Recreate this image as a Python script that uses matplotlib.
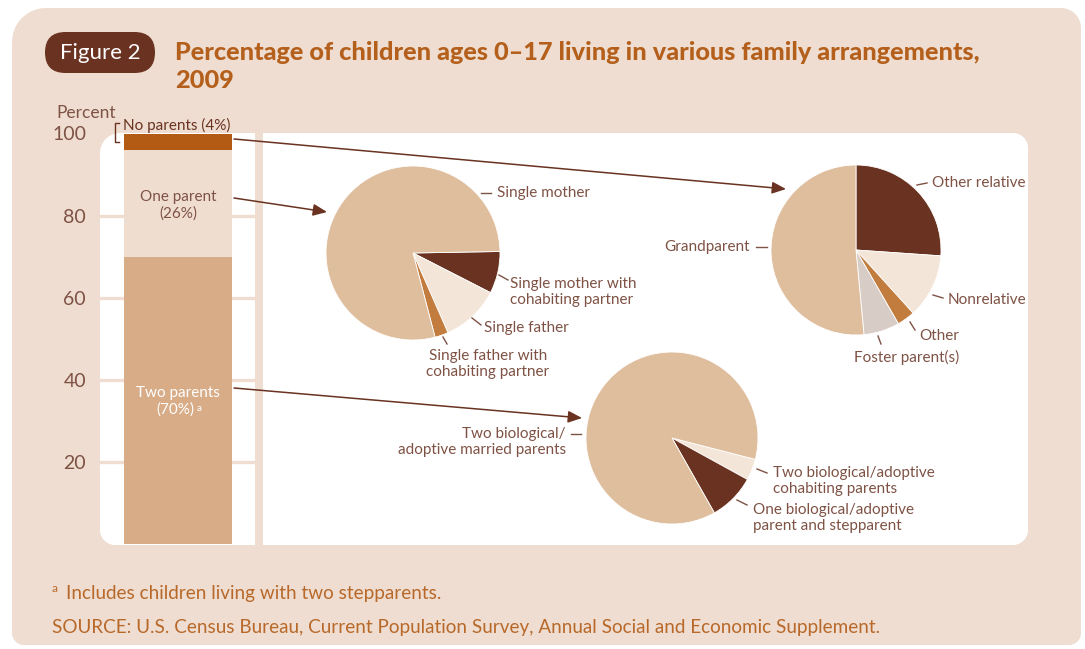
import numpy as np
import matplotlib
matplotlib.use("Agg")
import matplotlib.pyplot as plt
from matplotlib.patches import Polygon, FancyBboxPatch, FancyArrowPatch

plt.rcParams['font.family'] = ['Lato', 'DejaVu Sans']

# ---- data -------------------------------------------------------------
bar_groups = ["Two parents", "One parent", "No parents"]
bar_values = [70, 26, 4]

one_parent_labels = ["Single mother with cohabiting partner", "Single father",
                     "Single father with cohabiting partner", "Single mother"]
one_parent_values = [7.8, 10.9, 2.5, 78.8]

no_parent_labels = ["Other relative", "Nonrelative", "Other", "Foster parent(s)", "Grandparent"]
no_parent_values = [26.1, 12.2, 3.4, 6.8, 51.5]

two_parent_labels = ["Two biological/adoptive cohabiting parents",
                     "One biological/adoptive parent and stepparent",
                     "Two biological/adoptive married parents"]
two_parent_values = [4.0, 8.8, 87.2]

y_ticks = [20, 40, 60, 80, 100]

# ---- colours -----------------------------------------------------------
PANEL = '#EEDDD0'
TAN = '#DFBE9E'
DARK = '#6A3220'
CREAM = '#F3E5D8'
ORANGE = '#C27C3E'
FOSTER = '#D8CCC6'
BAR_TWO = '#D8AC87'
BAR_ONE = '#EFDDD0'
BAR_NONE = '#B35A15'
LABEL = '#7E5244'
TITLE = '#B4601C'
NOTE = '#B8692A'

W, H = 1085, 649
fig = plt.figure(figsize=(W / 100, H / 100), dpi=100)


def frac(x0, y0, x1, y1):
    """Pixel box (y downward) -> figure fraction rect."""
    return [x0 / W, 1 - y1 / H, (x1 - x0) / W, (y1 - y0) / H]


def rounded_poly(x0, y0, x1, y1, radii, n=16):
    """Rectangle with individual corner radii (tl, tr, br, bl), y downward."""
    tl, tr, br, bl = radii
    pts = []

    def arc(cx, cy, r, a0, a1):
        t = np.linspace(np.radians(a0), np.radians(a1), n)
        return list(zip(cx + r * np.cos(t), cy + r * np.sin(t)))

    pts += arc(x0 + tl, y0 + tl, tl, 180, 270) if tl else [(x0, y0)]
    pts += arc(x1 - tr, y0 + tr, tr, 270, 360) if tr else [(x1, y0)]
    pts += arc(x1 - br, y1 - br, br, 0, 90) if br else [(x1, y1)]
    pts += arc(x0 + bl, y1 - bl, bl, 90, 180) if bl else [(x0, y1)]
    return np.array(pts)


# ---- background layer ------------------------------------------------------
bg = fig.add_axes([0, 0, 1, 1], zorder=0)
bg.set_xlim(0, W)
bg.set_ylim(H, 0)
bg.axis('off')

bg.add_patch(Polygon(rounded_poly(12, 8, 1081, 645, (34, 20, 12, 12)),
                     closed=True, fc=PANEL, ec='none'))
bg.add_patch(Polygon(rounded_poly(100, 133, 255, 545, (20, 0, 0, 15)),
                     closed=True, fc='white', ec='none'))
bg.add_patch(Polygon(rounded_poly(263, 133, 1028, 545, (0, 15, 15, 0)),
                     closed=True, fc='white', ec='none'))

# Figure badge and title
bg.add_patch(FancyBboxPatch((45, 32), 110, 41,
                            boxstyle="round,pad=0,rounding_size=20.5",
                            fc=DARK, ec='none'))
bg.text(100, 53, "Figure 2", color='white', fontsize=16, ha='center',
        va='center')
bg.text(175, 52, "Percentage of children ages 0\u201317 living in various family arrangements,",
        color=TITLE, fontsize=18.2, fontweight='black', ha='left', va='center')
bg.text(175, 81, "2009", color=TITLE, fontsize=18.2, fontweight='black',
        ha='left', va='center')

# Notes
bg.text(52, 588, "a", color=NOTE, fontsize=8.5, ha='left', va='center')
bg.text(66, 593, "Includes children living with two stepparents.", color=NOTE,
        fontsize=13.6, ha='left', va='center')
bg.text(52, 628, "SOURCE: U.S. Census Bureau, Current Population Survey, "
        "Annual Social and Economic Supplement.", color=NOTE, fontsize=13.6,
        ha='left', va='center')

# ---- stacked bar ------------------------------------------------------------
axb = fig.add_axes(frac(100, 133.5, 255, 544), zorder=1)
axb.patch.set_alpha(0)
axb.set_xlim(0, 1)
axb.set_ylim(0, 100)
for s in axb.spines.values():
    s.set_visible(False)
axb.set_xticks([])
axb.set_yticks(y_ticks)
axb.set_yticklabels([str(t) for t in y_ticks])
axb.tick_params(axis='y', length=0, pad=10, labelsize=14, labelcolor=LABEL)
axb.set_axisbelow(True)
for t in y_ticks[:-1]:
    axb.axhline(t, color=PANEL, lw=2.4, zorder=0)

bar_colors = [BAR_TWO, BAR_ONE, BAR_NONE]
bottoms = np.concatenate([[0], np.cumsum(bar_values)[:-1]])
axb.bar([0.503] * 3, bar_values, bottom=bottoms, width=0.697,
        color=bar_colors, zorder=2)

mid_two = bottoms[0] + bar_values[0] / 2
mid_one = bottoms[1] + bar_values[1] / 2
axb.text(0.503, mid_two + 1.9, bar_groups[0], color='white', fontsize=11,
         ha='center', va='center', zorder=3)
axb.text(0.485, mid_two - 2.3, f"({bar_values[0]}%)", color='white', fontsize=11,
         ha='center', va='center', zorder=3)
axb.text(0.625, mid_two - 1.9, "a", color='white', fontsize=7,
         ha='left', va='center', zorder=3)
axb.text(0.503, mid_one - 0.4, f"{bar_groups[1]}\n({bar_values[1]}%)", color=LABEL,
         fontsize=11, ha='center', va='center', linespacing=1.2, zorder=3)

# ---- pies ----------------------------------------------------------------
def pie_axes(cx, cy, r):
    ax = fig.add_axes(frac(cx - r, cy - r, cx + r, cy + r), zorder=2)
    ax.patch.set_alpha(0)
    return ax


wp = dict(linewidth=0.6, edgecolor='white')

ax1 = pie_axes(413, 253, 87)
ax1.pie(one_parent_values, colors=[DARK, CREAM, ORANGE, TAN],
        startangle=1, counterclock=False, radius=1, wedgeprops=wp)
ax1.set_xlim(-1, 1)
ax1.set_ylim(-1, 1)

ax2 = pie_axes(856, 250, 85)
ax2.pie(no_parent_values, colors=[DARK, CREAM, ORANGE, FOSTER, TAN],
        startangle=90, counterclock=False, radius=1, wedgeprops=wp)
ax2.set_xlim(-1, 1)
ax2.set_ylim(-1, 1)

ax3 = pie_axes(672, 438, 86)
ax3.pie(two_parent_values, colors=[CREAM, DARK, TAN],
        startangle=-14.4, counterclock=False, radius=1, wedgeprops=wp)
ax3.set_xlim(-1, 1)
ax3.set_ylim(-1, 1)

# ---- overlay: labels, leaders, arrows --------------------------------------
ov = fig.add_axes([0, 0, 1, 1], zorder=5)
ov.set_xlim(0, W)
ov.set_ylim(H, 0)
ov.axis('off')
ov.patch.set_alpha(0)

# "No parents" tag with bracket
ov.plot([119, 115, 115, 119], [123, 123, 142, 142], color=DARK, lw=1.0)
ov.text(123, 125, f"{bar_groups[2]} ({bar_values[2]}%)", color=DARK, fontsize=11,
        ha='left', va='center')
ov.text(56, 113, "Percent", color=LABEL, fontsize=12.5, ha='left', va='center')


def arrow(p0, p1):
    ov.add_patch(FancyArrowPatch(p0, p1, arrowstyle='-|>,head_length=0.7,head_width=0.3',
                                 mutation_scale=12, color=DARK, lw=1.1,
                                 shrinkA=0, shrinkB=0))


arrow((234, 139), (786, 189))
arrow((234, 198), (327, 212))
arrow((234, 388), (582, 418))

LFS = 11


def lab(x, y, s, ha='left', lead=None):
    ov.text(x, y, s, color=LABEL, fontsize=LFS, ha=ha, va='center',
            linespacing=1.2)
    if lead is not None:
        (xa, ya), (xb, yb) = lead
        ov.plot([xa, xb], [ya, yb], color=LABEL, lw=1.0)


# one-parent pie
lab(497, 193, "Single mother", lead=((481, 193), (491, 193)))
lab(510, 292, "Single mother with\ncohabiting partner", lead=((499, 275), (508, 280)))
lab(484, 328, "Single father", lead=((472, 318), (481, 325)))
lab(488, 364, "Single father with\ncohabiting partner", ha='center',
    lead=((443, 337), (447, 344)))

# no-parent pie
lab(932, 183, "Other relative", lead=((917, 185), (927, 183)))
lab(750, 247, "Grandparent", ha='right', lead=((756, 247), (767, 247)))
lab(948, 300, "Nonrelative", lead=((933, 295), (943, 298)))
lab(919, 336, "Other", lead=((910, 322), (915, 330)))
lab(907, 357, "Foster parent(s)", ha='center', lead=((878, 336), (881, 344)))

# two-parent pie
ov.text(566, 442, "Two biological/\nadoptive married parents", color=LABEL,
        fontsize=LFS, ha='right', va='center', multialignment='right',
        linespacing=1.2)
ov.plot([571, 581], [434, 434], color=LABEL, lw=1.0)
lab(773, 481, "Two biological/adoptive\ncohabiting parents", lead=((757, 469), (767, 473)))
lab(753, 518, "One biological/adoptive\nparent and stepparent", lead=((737, 500), (747, 505)))

fig.savefig("out.png", dpi=100)
